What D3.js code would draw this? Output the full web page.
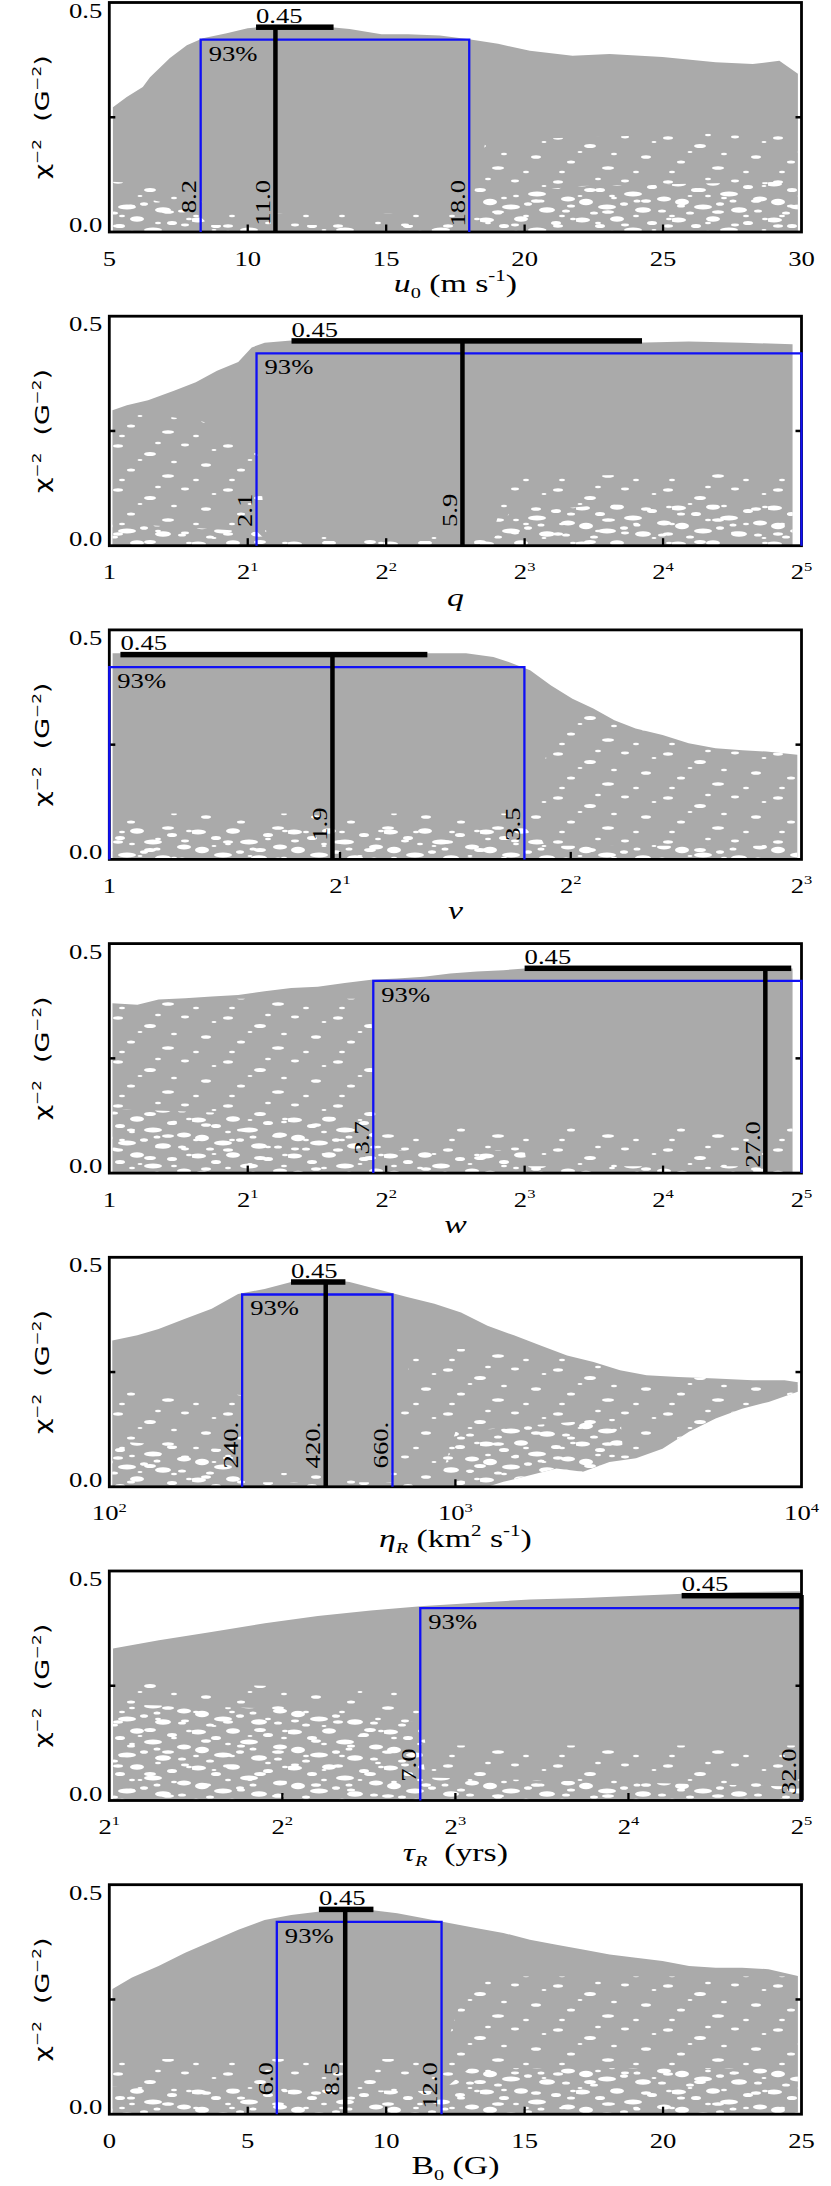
<!DOCTYPE html>
<html><head><meta charset="utf-8">
<script src="https://cdn.jsdelivr.net/npm/d3@7"></script>
<style>body{margin:0;background:#fff}svg{display:block}text{white-space:pre}</style>
</head><body><svg id="chart" width="831" height="2186"></svg>
<script>
// ---------------- DATA ----------------
const panelKeys   = ["u0", "q", "v", "w", "etaR", "tauR", "B0"];
const scaleTypes  = ["linear", "log2", "log2", "log2", "log10", "log2", "linear"];
const domainMin   = [5, 1, 1, 1, 100, 2, 0];
const domainMax   = [30, 32, 8, 32, 10000, 32, 25];
const tickValues  = [[5,10,15,20,25,30],[1,2,4,8,16,32],[1,2,4,8],[1,2,4,8,16,32],[100,1000,10000],[2,4,8,16,32],[0,5,10,15,20,25]];
const tickLabels  = [["5","10","15","20","25","30"],["1","2^1","2^2","2^3","2^4","2^5"],["1","2^1","2^2","2^3"],["1","2^1","2^2","2^3","2^4","2^5"],["10^2","10^3","10^4"],["2^1","2^2","2^3","2^4","2^5"],["0","5","10","15","20","25"]];
const yTickValues = [0, 0.25, 0.5];
const yTickLabels = ["0.0", "", "0.5"];

// x-axis titles as [text, kind] segments
const xTitles = [
  [["u","i"],["0","sub"],[" (m s","n"],["-1","sup"],[")","n"]],
  [["q","i"]],
  [["v","i"]],
  [["w","i"]],
  [["η","i"],["R","subi"],[" (km","n"],["2","sup"],[" s","n"],["-1","sup"],[")","n"]],
  [["τ","i"],["R","subi"],["  (yrs)","n"]],
  [["B","n"],["0","sub"],[" (G)","n"]]
];
const yTitle = [["χ","n"],["−2","sup"],["  (G","n"],["−2","sup"],[")","n"]];

// upper envelope of the chi^-2 cloud (parameter value, chi^-2)
const envU0  = [[5.13,0.272],[5.63,0.294],[6.21,0.316],[6.47,0.337],[7.19,0.379],[7.8,0.407],[8.38,0.422],[9.24,0.433],[10.0,0.444],[11.0,0.45],[12.0,0.451],[12.53,0.449],[13.68,0.442],[14.83,0.431],[15.79,0.431],[16.94,0.428],[17.99,0.42],[19.04,0.41],[20.19,0.395],[21.73,0.384],[23.07,0.388],[24.98,0.381],[26.9,0.37],[28.24,0.366],[29.2,0.373],[29.87,0.345]];
const envQ   = [[1.016,0.295],[1.092,0.306],[1.214,0.317],[1.387,0.338],[1.542,0.356],[1.715,0.381],[1.907,0.40],[2.04,0.432],[2.177,0.442],[2.486,0.447],[3.25,0.448],[4.83,0.447],[8.21,0.445],[13.9,0.442],[18.2,0.445],[23.8,0.442],[30.6,0.439]];
const envV   = [[1.01,0.449],[2.92,0.449],[3.17,0.441],[3.32,0.43],[3.54,0.412],[3.77,0.379],[4.02,0.35],[4.28,0.329],[4.56,0.303],[4.86,0.285],[5.27,0.271],[5.70,0.253],[6.18,0.242],[6.7,0.238],[7.2,0.235],[7.9,0.228]];
const envW   = [[1.016,0.37],[1.151,0.367],[1.28,0.378],[1.462,0.381],[1.671,0.385],[1.906,0.388],[2.177,0.396],[2.486,0.403],[2.84,0.406],[3.25,0.414],[3.71,0.421],[4.23,0.424],[4.83,0.428],[5.51,0.435],[6.3,0.439],[7.19,0.442],[8.0,0.446],[10.7,0.45],[18.2,0.451],[27.2,0.45],[30.6,0.446]];
const envEta = [[102,0.319],[120.5,0.33],[138.8,0.344],[165.6,0.366],[197.6,0.388],[235.6,0.42],[281,0.431],[335.5,0.446],[414.5,0.453],[494.5,0.446],[611,0.428],[729.5,0.413],[869.6,0.399],[1038,0.38],[1238,0.351],[1476,0.33],[1762,0.308],[2102,0.286],[2507,0.272],[2990,0.254],[3567,0.243],[4407,0.239],[5647,0.236],[7227,0.232],[8933,0.232],[9755,0.228]];
const envTau = [[2.03,0.331],[2.44,0.349],[3.01,0.367],[3.73,0.386],[4.61,0.402],[5.7,0.414],[7.05,0.424],[8.72,0.431],[10.78,0.438],[13.34,0.441],[16.5,0.446],[20.4,0.451],[25.2,0.454],[31.8,0.456]];
const envB0  = [[0.115,0.273],[0.82,0.298],[1.78,0.323],[2.74,0.352],[3.70,0.377],[4.66,0.402],[5.61,0.423],[6.57,0.434],[7.53,0.441],[8.49,0.445],[9.44,0.445],[10.4,0.438],[11.36,0.427],[12.32,0.416],[13.28,0.405],[14.23,0.395],[15.19,0.38],[16.15,0.369],[17.1,0.359],[18.07,0.348],[19.02,0.341],[19.98,0.334],[20.94,0.323],[21.9,0.319],[22.85,0.319],[23.81,0.316],[24.87,0.301]];
// lower envelope (only the eta_R cloud lifts off zero)
const lowEta = [[102,0],[1238,0],[1376,0.011],[1642,0.025],[1959,0.04],[2337,0.033],[2787,0.054],[3325,0.062],[3966,0.083],[4731,0.12],[5647,0.149],[6730,0.17],[8035,0.185],[9755,0.207]];

const upperEnvelopes = [envU0, envQ, envV, envW, envEta, envTau, envB0];
const lowerEnvelopes = [null, null, null, null, lowEta, null, null];

// sparsely sampled zones of each cloud (upper boundary of the zone; zone runs down to 0)
const sparseDense = [
  [[[5,0.075],[6.5,0.07],[8,0.05],[8.6,0.015],[18,0.015],[18.6,0.08],[22,0.1],[30,0.11]]],
  [[[1,0.05],[2.1,0.03],[2.2,0.01],[6.8,0.01],[7.4,0.07],[12,0.09],[32,0.09]]],
  [[[1,0.07],[3.6,0.07],[3.7,0.03],[8,0.03]]],
  [[[1,0.14],[3.7,0.12],[3.8,0.05],[8,0.05],[8.1,0.015],[32,0.015]]],
  [[[100,0.1],[230,0.08],[240,0.01],[900,0.01],[1000,0.12],[3000,0.15],[3100,0.0]]],
  [[[2,0.21],[4,0.2],[6.9,0.17],[7.1,0.05],[32,0.03]]],
  [[[0,0.06],[12,0.05],[13,0.1],[25,0.1]]]
];
const sparseLight = [
  [[[5,0.11],[8,0.1],[8.6,0.04],[18,0.04],[18.6,0.2],[30,0.22]]],
  [[[1,0.3],[1.6,0.27],[2.1,0.2],[2.2,0.02],[6.8,0.02],[7.4,0.15],[32,0.16]]],
  [[[1,0.1],[3.6,0.1],[3.8,0.32],[8,0.3]]],
  [[[1,0.38],[3.7,0.38],[3.8,0.1],[32,0.1]]],
  [[[100,0.22],[240,0.2],[241,0.03],[650,0.03],[750,0.3],[10000,0.3]]],
  [[[2,0.26],[6.9,0.24],[7.1,0.12],[32,0.12]]],
  [[[0,0.12],[12,0.12],[13,0.3],[25,0.3]]]
];

// best fit, 93% interval and peak bar
const peakValue   = 0.45;
const peakLabel   = "0.45";
const levelValue  = 0.419;
const levelLabel  = "93%";
const bestValues  = [11.0, 5.86, 1.955, 26.7, 422, 32, 8.52];
const bestLabels  = ["11.0", "5.9", "1.9", "27.0", "420.", "32.0", "8.5"];
const lowValues   = [8.3, 2.09, 1.0, 3.75, 242, 6.95, 6.05];
const lowLabels   = ["8.2", "2.1", null, "3.7", "240.", "7.0", "6.0"];
const highValues  = [18.0, 32, 3.48, 32, 658, 32, 12.0];
const highLabels  = ["18.0", null, "3.5", null, "660.", null, "12.0"];
const barLo       = [10.3, 2.49, 1.034, 8.0, 335, 19.8, 7.57];
const barHi       = [13.1, 14.4, 2.6, 30.4, 481, 32, 9.54];

// ---------------- LAYOUT ----------------
const svg = d3.select("#chart");
const L = 109.3, R = 801.5, PH = 229.5, TOP0 = 2.5, PITCH = 313.7;
const SERIF = "'Liberation Serif','Times New Roman',serif";
const SANS = "'DejaVu Sans',sans-serif";
const STRETCH = 1.3;
const GRAY = "#aaaaaa", BLUE = "#1010f5";

// speckle textures (white gaps in the sampled cloud) - purely decorative styling
const defs = svg.append("defs");
function speckle(id, w, h, blobs) {
  const p = defs.append("pattern").attr("id", id).attr("patternUnits", "userSpaceOnUse").attr("width", w).attr("height", h);
  blobs.forEach(([cx, cy, rx, ry]) => p.append("ellipse").attr("cx", cx).attr("cy", cy).attr("rx", rx).attr("ry", ry).attr("fill", "#fff"));
}
speckle("specDense", 96, 36, [[6,4,8,2.6],[24,10,5,2],[41,3,7,2.8],[57,14,9,2.6],[76,7,5,2],[88,19,7,2.6],[10,22,7,3.2],[31,27,9,2.6],[48,24,4,1.8],[67,30,8,2.8],[86,31,4,1.6],[18,33,4,1.6],[61,21,3.5,1.6],[93,3,3,1.3],[36,16,3,1.3]]);
speckle("specLight", 110, 44, [[8,6,5,1.7],[40,14,6,2],[75,5,4,1.4],[96,25,5,1.8],[21,30,4,1.5],[58,36,6,1.8],[86,40,3,1.3],[30,20,2.5,1.1],[64,22,3,1.2],[104,10,2.5,1.1],[48,3,3,1.2],[12,40,3,1.2]]);

function rich(parent, segs, size, family) {
  const t = parent.append("text").attr("font-family", family).attr("font-size", size).attr("fill", "#000");
  let shift = 0;
  segs.forEach(([str, kind]) => {
    let target = 0, fs = size, style = "normal";
    if (kind === "sup") { target = -size * 0.42; fs = size * 0.62; }
    if (kind === "sub" || kind === "subi") { target = size * 0.22; fs = size * 0.6; }
    if (kind === "i" || kind === "subi") style = "italic";
    t.append("tspan").attr("dy", (target - shift).toFixed(2)).attr("font-size", fs).attr("font-style", style).text(str);
    shift = target;
  });
  return t;
}
function parseLabel(s) {
  if (s.includes("^")) { const [b, e] = s.split("^"); return [[b, "n"], [e, "sup"]]; }
  return [[s, "n"]];
}
function place(t, x, y, rot, anchor, stretch) {
  const s = stretch || STRETCH;
  t.attr("text-anchor", anchor).attr("transform", `translate(${x},${y}) rotate(${rot}) scale(${s},1)`);
  return t;
}

panelKeys.forEach((key, i) => {
  const top = TOP0 + i * PITCH, bottom = top + PH;
  let x;
  if (scaleTypes[i] === "linear") x = d3.scaleLinear();
  else if (scaleTypes[i] === "log2") x = d3.scaleLog().base(2);
  else x = d3.scaleLog().base(10);
  x.domain([domainMin[i], domainMax[i]]).range([L, R]);
  const y = d3.scaleLinear().domain([0, 0.5]).range([bottom, top]);
  const g = svg.append("g").attr("class", "panel-" + key);

  // cloud shape, used as fill and as clip for the speckles
  const up = upperEnvelopes[i];
  const loPts = lowerEnvelopes[i] ? lowerEnvelopes[i].slice().reverse() : [[up[up.length - 1][0], 0], [up[0][0], 0]];
  const pts = up.map(p => [x(p[0]), y(p[1])]).concat(loPts.map(p => [x(p[0]), y(p[1])]));
  const cloudD = d3.line()(pts) + "Z";
  const clipId = "cloud" + i;
  defs.append("clipPath").attr("id", clipId).append("path").attr("d", cloudD);
  g.append("path").attr("d", cloudD).attr("fill", GRAY);

  const zonePath = z => {
    const zp = [[x(z[0][0]), y(0)]].concat(z.map(p => [x(p[0]), y(p[1])]), [[x(z[z.length - 1][0]), y(0)]]);
    return d3.line()(zp) + "Z";
  };
  sparseLight[i].forEach(z => g.append("path").attr("clip-path", `url(#${clipId})`).attr("d", zonePath(z)).attr("fill", "url(#specLight)"));
  sparseDense[i].forEach(z => g.append("path").attr("clip-path", `url(#${clipId})`).attr("d", zonePath(z)).attr("fill", "url(#specDense)"));

  // frame
  g.append("rect").attr("x", L).attr("y", top).attr("width", R - L).attr("height", PH)
    .attr("fill", "none").attr("stroke", "#000").attr("stroke-width", 2.8);

  // x ticks (inward)
  tickValues[i].forEach((v, k) => {
    const xv = x(v);
    if (k > 0 && k < tickValues[i].length - 1)
      g.append("line").attr("x1", xv).attr("x2", xv).attr("y1", bottom).attr("y2", bottom - 7.5).attr("stroke", "#000").attr("stroke-width", 2.3);
    place(rich(g, parseLabel(tickLabels[i][k]), 20.5, SERIF), xv, bottom + 33.5, 0, "middle");
  });
  // y ticks
  yTickValues.forEach((v, k) => {
    if (v > 0 && v < 0.5) {
      g.append("line").attr("x1", L).attr("x2", L + 6).attr("y1", y(v)).attr("y2", y(v)).attr("stroke", "#000").attr("stroke-width", 2.5);
      g.append("line").attr("x1", R - 6).attr("x2", R).attr("y1", y(v)).attr("y2", y(v)).attr("stroke", "#000").attr("stroke-width", 2.5);
    }
    if (yTickLabels[k]) {
      const yy = v === 0 ? y(v) : y(v) + 15;
      place(rich(g, [[yTickLabels[k], "n"]], 20.5, SERIF), L - 7, yy, 0, "end");
    }
  });

  // titles
  place(rich(g, xTitles[i], 26, SERIF), (L + R) / 2, bottom + 60, 0, "middle");
  place(rich(g, yTitle, 19, SANS), 49, (top + bottom) / 2, -90, "middle", 1.42);

  // 93% box
  const bx0 = x(lowValues[i]), bx1 = x(highValues[i]), byt = y(levelValue);
  g.append("path").attr("d", `M${bx0},${bottom}V${byt}H${bx1}V${bottom}`).attr("fill", "none").attr("stroke", BLUE).attr("stroke-width", 2.3);
  place(rich(g, [[levelLabel, "n"]], 20.5, SERIF), bx0 + 8, byt + 21, 0, "start");

  // peak bar + best-fit line
  const barTop = y(peakValue) - 1;
  g.append("rect").attr("x", x(barLo[i])).attr("y", barTop).attr("width", x(barHi[i]) - x(barLo[i])).attr("height", 5.5).attr("fill", "#000");
  const bxv = x(bestValues[i]);
  g.append("line").attr("x1", bxv).attr("x2", bxv).attr("y1", barTop + 2).attr("y2", bottom).attr("stroke", "#000").attr("stroke-width", 4.5);
  place(rich(g, [[peakLabel, "n"]], 20.5, SERIF), x(barLo[i]), barTop - 1.5, 0, "start");

  // rotated value labels
  const labTop = key === "etaR" ? bottom - 65 : bottom - 52;
  const labs = [[lowValues[i], lowLabels[i], 4.2], [bestValues[i], bestLabels[i], 5.8], [highValues[i], highLabels[i], 4.2]];
  labs.forEach(([v, s, off]) => {
    if (!s) return;
    place(rich(g, [[s, "n"]], 20.5, SERIF), x(v) - off, labTop, -90, "end");
  });
});
</script></body></html>
